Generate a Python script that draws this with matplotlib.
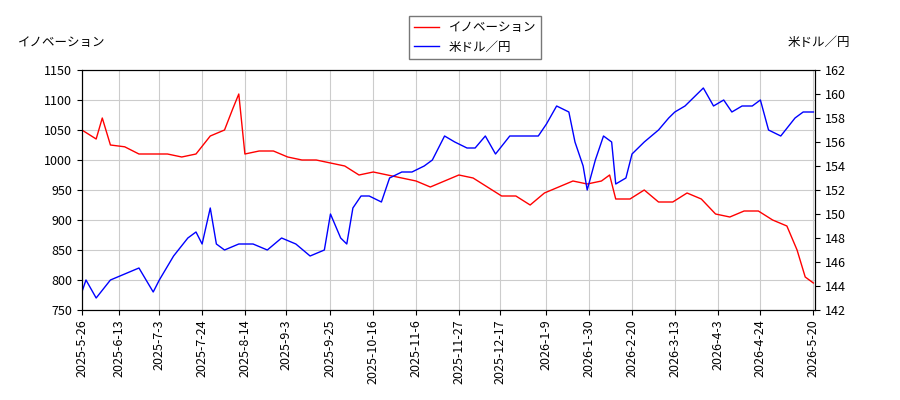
import matplotlib
matplotlib.use("Agg")
import matplotlib.pyplot as plt
import matplotlib.dates as mdates
import pandas as pd

plt.rcParams['font.family'] = ['Noto Sans CJK JP', 'DejaVu Sans']

red_dates = ["2025-05-26","2025-06-02","2025-06-05","2025-06-09","2025-06-16","2025-06-23","2025-06-30","2025-07-07","2025-07-14","2025-07-21","2025-07-28","2025-08-04","2025-08-08","2025-08-11","2025-08-14","2025-08-21","2025-08-28","2025-09-04","2025-09-11","2025-09-18","2025-09-25","2025-10-02","2025-10-09","2025-10-16","2025-10-23","2025-10-30","2025-11-06","2025-11-13","2025-11-20","2025-11-27","2025-12-04","2025-12-11","2025-12-18","2025-12-25","2026-01-01","2026-01-08","2026-01-15","2026-01-22","2026-01-29","2026-02-05","2026-02-09","2026-02-12","2026-02-19","2026-02-26","2026-03-05","2026-03-12","2026-03-19","2026-03-26","2026-04-02","2026-04-09","2026-04-16","2026-04-23","2026-04-30","2026-05-07","2026-05-12","2026-05-16","2026-05-20"]
red_vals = [1050,1035,1070,1025,1022,1010,1010,1010,1005,1010,1040,1050,1085,1110,1010,1015,1015,1005,1000,1000,995,990,975,980,975,970,965,955,965,975,970,955,940,940,925,945,955,965,960,965,975,935,935,950,930,930,945,935,910,905,915,915,900,890,850,805,795]

blue_dates = ["2025-05-26","2025-05-28","2025-06-02","2025-06-09","2025-06-16","2025-06-23","2025-06-30","2025-07-03","2025-07-10","2025-07-17","2025-07-21","2025-07-24","2025-07-28","2025-07-31","2025-08-04","2025-08-11","2025-08-18","2025-08-25","2025-09-01","2025-09-08","2025-09-15","2025-09-22","2025-09-25","2025-09-30","2025-10-03","2025-10-06","2025-10-10","2025-10-14","2025-10-20","2025-10-24","2025-10-30","2025-11-04","2025-11-10","2025-11-14","2025-11-20","2025-11-25","2025-12-01","2025-12-05","2025-12-10","2025-12-15","2025-12-22","2025-12-26","2026-01-05","2026-01-09","2026-01-14","2026-01-20","2026-01-23","2026-01-27","2026-01-29","2026-02-02","2026-02-06","2026-02-10","2026-02-12","2026-02-17","2026-02-20","2026-02-26","2026-03-05","2026-03-10","2026-03-13","2026-03-18","2026-03-24","2026-03-27","2026-04-01","2026-04-06","2026-04-10","2026-04-15","2026-04-20","2026-04-24","2026-04-28","2026-05-04","2026-05-11","2026-05-15","2026-05-20"]
blue_vals = [143.5,144.5,143,144.5,145,145.5,143.5,144.5,146.5,148,148.5,147.5,150.5,147.5,147,147.5,147.5,147,148,147.5,146.5,147,150,148,147.5,150.5,151.5,151.5,151,153,153.5,153.5,154,154.5,156.5,156,155.5,155.5,156.5,155,156.5,156.5,156.5,157.5,159,158.5,156,154,152,154.5,156.5,156,152.5,153,155,156,157,158,158.5,159,160,160.5,159,159.5,158.5,159,159,159.5,157,156.5,158,158.5,158.5]

tick_labels = ["2025-5-26","2025-6-13","2025-7-3","2025-7-24","2025-8-14","2025-9-3","2025-9-25","2025-10-16","2025-11-6","2025-11-27","2025-12-17","2026-1-9","2026-1-30","2026-2-20","2026-3-13","2026-4-3","2026-4-24","2026-5-20"]

fig = plt.figure(figsize=(9, 4), dpi=100)
ax = fig.add_axes([0.091, 0.225, 0.815, 0.6])
ax2 = ax.twinx()
l1, = ax.plot(pd.to_datetime(red_dates), red_vals, color='red', lw=1, label='イノベーション')
l2, = ax2.plot(pd.to_datetime(blue_dates), blue_vals, color='blue', lw=1, label='米ドル／円')
ax.set_ylim(750, 1150)
ax.set_yticks(range(750, 1151, 50))
ax2.set_ylim(142, 162)
ax2.set_yticks(range(142, 163, 2))
ticks = pd.to_datetime(tick_labels)
ax.set_xticks(ticks)
ax.set_xticklabels(tick_labels, rotation=90, fontsize=8)
ax.set_xlim(pd.Timestamp("2025-05-26"), pd.Timestamp("2026-05-21"))
ax.grid(True, color='#cccccc', lw=0.8)
ax.tick_params(labelsize=9)
ax2.tick_params(labelsize=9)
fig.text(0.02, 0.885, 'イノベーション', fontsize=9)
fig.text(0.945, 0.885, '米ドル／円', fontsize=9, ha='right')
fig.legend(handles=[l1, l2], loc='upper center', bbox_to_anchor=(0.528, 0.975), fontsize=9, fancybox=False, edgecolor='#555555')
fig.savefig('out.png')
